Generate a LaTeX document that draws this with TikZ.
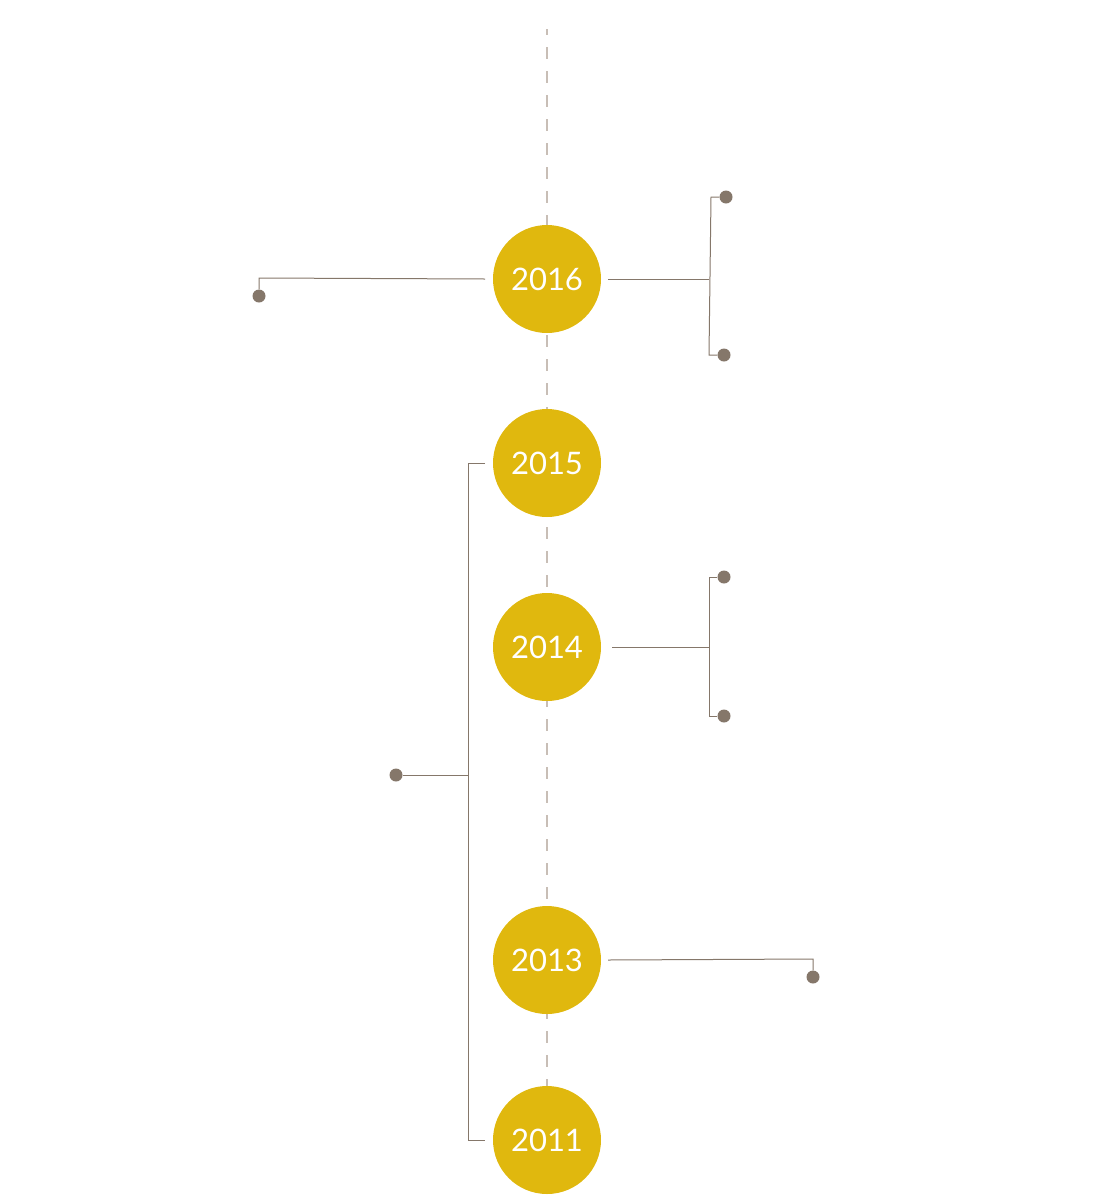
\documentclass[tikz,border=0pt]{standalone}
\usepackage{fontspec}
\setmainfont{Lato}
\usetikzlibrary{calc}

\definecolor{yeargold}{RGB}{224,184,14}
\definecolor{linkbrown}{RGB}{133,119,106}
\definecolor{axisgray}{RGB}{200,190,182}

\begin{document}
\begin{tikzpicture}[
    x=1pt, y=-1pt,
    year/.style={circle, fill=yeargold, minimum size=108pt, inner sep=0pt, outer sep=8pt,
        text=white, font=\fontsize{31}{37}\selectfont},
    link/.style={draw=linkbrown, line width=1pt},
    dot/.style={circle, fill=linkbrown, minimum size=13pt, inner sep=0pt},
    axis/.style={draw=axisgray, line width=1.3pt, dash pattern=on 12pt off 12pt, dash phase=6pt}
]
    \useasboundingbox (0,0) rectangle (1094,1200);

    % --- Timeline axis ---
    \coordinate (top) at (547,29);
    \coordinate (bottom) at (547,1086);
    \draw[axis] (top) -- (bottom);

    % --- Year circles ---
    \node[year] (y2016) at (547,279) {2016};
    \node[year] (y2015) at (547,463) {2015};
    \node[year] (y2014) at (547,647) {2014};
    \node[year] (y2013) at (547,960) {2013};
    \node[year] (y2011) at (547,1140) {2011};

    % --- End dots ---
    \node[dot] (d2016l) at (259,296) {};
    \node[dot] (d2016a) at (726,197) {};
    \node[dot] (d2016b) at (724,355) {};
    \node[dot] (d2015) at (396,775) {};
    \node[dot] (d2014a) at (724,577) {};
    \node[dot] (d2014b) at (724,716) {};
    \node[dot] (d2013) at (813,977) {};

    % --- Junctions ---
    \coordinate (j2016l) at (259,278);
    \coordinate (j2016r) at (709,279);
    \coordinate (j2016a) at (711,197);
    \coordinate (j2016b) at (709,355);
    \coordinate (j2015a) at (468,463);
    \coordinate (j2015m) at (468,775);
    \coordinate (j2015b) at (468,1140);
    \coordinate (j2014r) at (709,647);
    \coordinate (j2014a) at (709,577);
    \coordinate (j2014b) at (709,716);
    \coordinate (j2013) at (813,959);

    % --- Connectors ---
    \draw[link] (y2016.west) -- (j2016l) -- (d2016l);
    \draw[link] ([xshift=-1pt]y2016.east) -- (j2016r);
    \draw[link] (d2016a) -- (j2016a) -- (j2016b) -- (d2016b);
    \draw[link] (y2015.west) -- (j2015a) -- (j2015b) -- (y2011.west);
    \draw[link] (j2015m) -- (d2015);
    \draw[link] ([xshift=3pt]y2014.east) -- (j2014r);
    \draw[link] (d2014a) -- (j2014a) -- (j2014b) -- (d2014b);
    \draw[link] ([xshift=-1pt]y2013.east) -- (j2013) -- (d2013);

\end{tikzpicture}
\end{document}
